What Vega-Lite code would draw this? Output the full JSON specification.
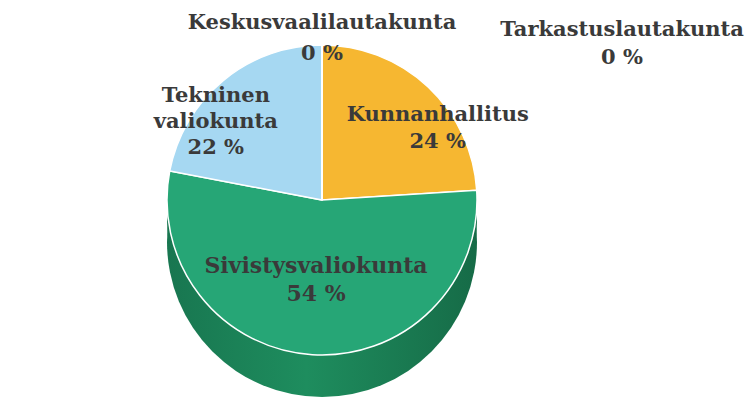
{
  "$schema": "https://vega.github.io/schema/vega-lite/v6.json",
  "width": 644,
  "height": 400,
  "autosize": {"type": "none"},
  "padding": {"left": 0, "top": 0, "right": 111, "bottom": 3},
  "background": "white",
  "config": {"view": {"stroke": null}},
  "data": {
    "values": [
      {"name": "Kunnanhallitus", "value": 24, "order": 1},
      {"name": "Sivistysvaliokunta", "value": 54, "order": 2},
      {"name": "Tekninen valiokunta", "value": 22, "order": 3},
      {"name": "Keskusvaalilautakunta", "value": 0, "order": 4},
      {"name": "Tarkastuslautakunta", "value": 0, "order": 5}
    ]
  },
  "transform": [
    {"calculate": "replace(datum.name, ' ', '\\n') + '\\n' + datum.value + ' %'", "as": "label"}
  ],
  "layer": [
    {
      "data": {"values": [{"part": "side"}]},
      "mark": {
        "type": "arc", "radius": 155, "theta": 0, "theta2": 6.2832, "yOffset": 42,
        "fill": {"gradient": "linear", "x1": 0, "y1": 0, "x2": 1, "y2": 0,
          "stops": [{"offset": 0, "color": "#187650"}, {"offset": 0.45, "color": "#1E8D5E"}, {"offset": 1, "color": "#166B47"}]}
      },
      "encoding": {}
    },
    {
      "data": {"values": [{"part": "side"}]},
      "mark": {
        "type": "arc", "radius": 155, "theta": 0, "theta2": 6.2832, "yOffset": 21,
        "fill": {"gradient": "linear", "x1": 0, "y1": 0, "x2": 1, "y2": 0,
          "stops": [{"offset": 0, "color": "#187650"}, {"offset": 0.45, "color": "#1E8D5E"}, {"offset": 1, "color": "#166B47"}]}
      },
      "encoding": {}
    },
    {
      "mark": {"type": "arc", "radius": 155, "stroke": "white", "strokeWidth": 1.5},
      "encoding": {
        "theta": {"field": "value", "type": "quantitative", "stack": true},
        "order": {"field": "order", "type": "quantitative"},
        "color": {
          "field": "name", "type": "nominal", "legend": null,
          "scale": {
            "domain": ["Kunnanhallitus", "Sivistysvaliokunta", "Tekninen valiokunta", "Keskusvaalilautakunta", "Tarkastuslautakunta"],
            "range": ["#F6B731", "#26A676", "#A6D8F2", "#A6D8F2", "#F6B731"]
          }
        }
      }
    },
    {
      "mark": {"type": "text", "radius": 96, "dx": 50, "dy": -15, "font": "DejaVu Serif", "fontWeight": "bold", "fontSize": 21, "color": "#3A3A3A", "lineBreak": "\n", "lineHeight": 27, "align": "center", "baseline": "middle"},
      "encoding": {
        "theta": {"field": "value", "type": "quantitative", "stack": true},
        "order": {"field": "order", "type": "quantitative"},
        "text": {"condition": {"test": "datum.name == 'Kunnanhallitus'", "field": "label"}, "value": ""}
      }
    },
    {
      "mark": {"type": "text", "radius": 96, "dx": -45, "dy": -30, "font": "DejaVu Serif", "fontWeight": "bold", "fontSize": 21, "color": "#3A3A3A", "lineBreak": "\n", "lineHeight": 26, "align": "center", "baseline": "middle"},
      "encoding": {
        "theta": {"field": "value", "type": "quantitative", "stack": true},
        "order": {"field": "order", "type": "quantitative"},
        "text": {"condition": {"test": "datum.name == 'Tekninen valiokunta'", "field": "label"}, "value": ""}
      }
    },
    {
      "mark": {"type": "text", "radius": 96, "dy": -30, "font": "DejaVu Serif", "fontWeight": "bold", "fontSize": 22, "color": "#3A3A3A", "lineBreak": "\n", "lineHeight": 28, "align": "center", "baseline": "middle"},
      "encoding": {
        "theta": {"field": "value", "type": "quantitative", "stack": true},
        "order": {"field": "order", "type": "quantitative"},
        "text": {"condition": {"test": "datum.name == 'Sivistysvaliokunta'", "field": "label"}, "value": ""}
      }
    },
    {
      "transform": [
        {"filter": "datum.name == 'Keskusvaalilautakunta'"},
        {"calculate": "datum.name + '\\n' + datum.value + ' %'", "as": "label2"}
      ],
      "mark": {"type": "text", "radius": 177, "theta": 0, "font": "DejaVu Serif", "fontWeight": "bold", "fontSize": 21, "color": "#3A3A3A", "lineBreak": "\n", "lineHeight": 31, "align": "center", "baseline": "middle"},
      "encoding": {"text": {"field": "label2"}}
    },
    {
      "transform": [
        {"filter": "datum.name == 'Tarkastuslautakunta'"},
        {"calculate": "datum.name + '\\n' + datum.value + ' %'", "as": "label2"}
      ],
      "mark": {"type": "text", "radius": 161, "theta": 0, "dx": 300, "dy": -9, "font": "DejaVu Serif", "fontWeight": "bold", "fontSize": 21, "color": "#3A3A3A", "lineBreak": "\n", "lineHeight": 28, "align": "center", "baseline": "middle"},
      "encoding": {"text": {"field": "label2"}}
    }
  ]
}
